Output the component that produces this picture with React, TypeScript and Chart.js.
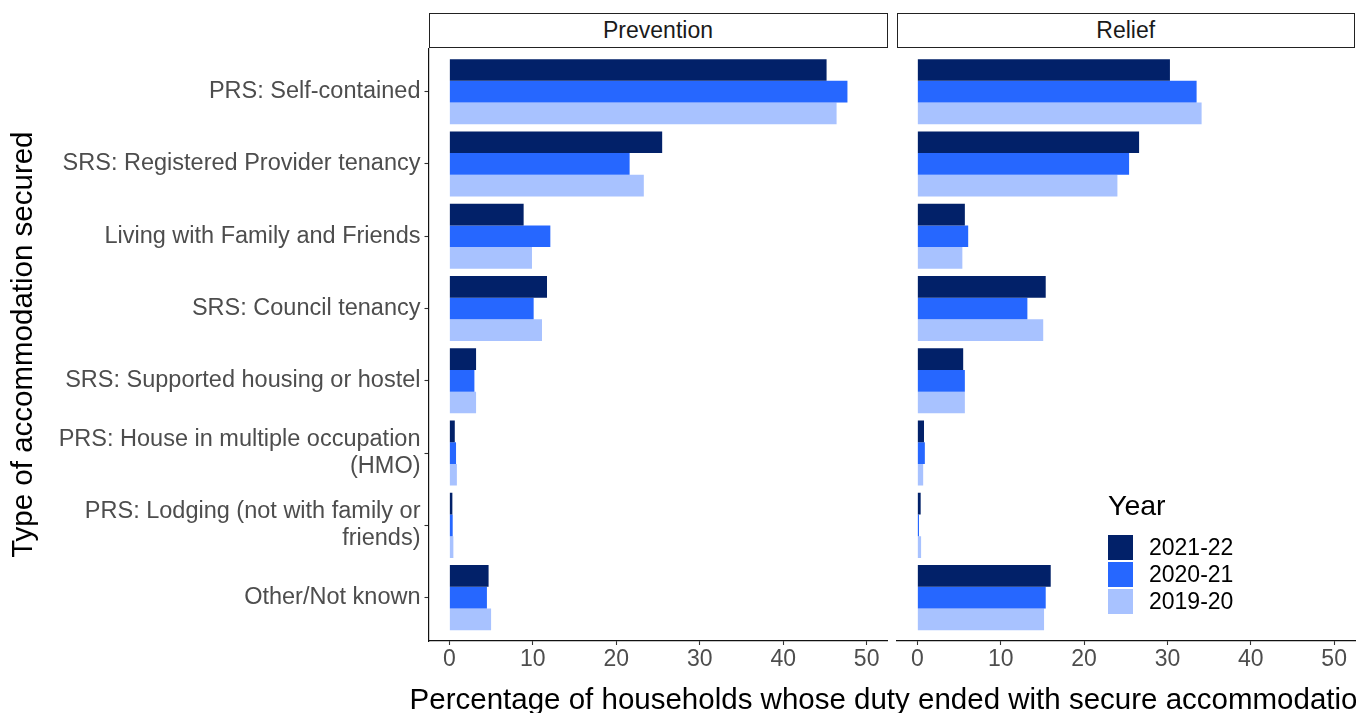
import React, { useEffect, useRef } from "react";
import { Chart, registerables } from "chart.js";

Chart.register(...registerables);

const FONT = '"Liberation Sans", Arial, sans-serif';

const categories = [
  "PRS: Self-contained",
  "SRS: Registered Provider tenancy",
  "Living with Family and Friends",
  "SRS: Council tenancy",
  "SRS: Supported housing or hostel",
  "PRS: House in multiple occupation\n(HMO)",
  "PRS: Lodging (not with family or\nfriends)",
  "Other/Not known",
];

const years = ["2021-22", "2020-21", "2019-20"];
const yearColors = ["#022169", "#2667FF", "#A8C2FF"];

const prevention2122 = [45.2, 25.5, 8.9, 11.7, 3.2, 0.65, 0.36, 4.7];
const prevention2021 = [47.7, 21.6, 12.1, 10.1, 3.0, 0.8, 0.4, 4.5];
const prevention1920 = [46.4, 23.3, 9.9, 11.1, 3.2, 0.9, 0.48, 5.0];

const relief2122 = [30.3, 26.6, 5.7, 15.4, 5.5, 0.8, 0.4, 16.0];
const relief2021 = [33.5, 25.4, 6.1, 13.2, 5.7, 0.9, 0.2, 15.4];
const relief1920 = [34.1, 24.0, 5.4, 15.1, 5.7, 0.7, 0.45, 15.2];

const xTicks = [0, 10, 20, 30, 40, 50];

const panels = ["Prevention", "Relief"];
const yTitle = "Type of accommodation secured";
const xTitle = "Percentage of households whose duty ended with secure accommodation";
const legendTitle = "Year";

function makeDatasets(series: number[][]) {
  return series.map((vals, k) => ({
    label: years[k],
    data: vals.map((v, i) => ({ x: v, y: i })),
    backgroundColor: yearColors[k],
    borderWidth: 0,
    categoryPercentage: 0.9,
    barPercentage: 1.0,
  }));
}

function xScale() {
  return {
    type: "linear" as const,
    min: -2.5,
    max: 52.5,
    offset: false,
    afterBuildTicks: (s: any) => {
      s.ticks = xTicks.map((v) => ({ value: v }));
    },
    afterFit: (s: any) => {
      s.height = 72;
    },
    grid: {
      display: true,
      offset: false,
      drawOnChartArea: false,
      drawTicks: true,
      tickLength: 4,
      tickColor: "#333333",
      tickWidth: 1.1,
    },
    border: { display: true, color: "#111111", width: 1.2 },
    ticks: {
      padding: 1,
      color: "#4d4d4d",
      font: { family: FONT, size: 23, lineHeight: 1.16 },
      maxRotation: 0,
      autoSkip: false,
    },
  };
}

function yScale(show: boolean) {
  return {
    type: "linear" as const,
    reverse: true,
    min: -0.6,
    max: 7.6,
    offset: false,
    display: show,
    afterBuildTicks: (s: any) => {
      s.ticks = categories.map((_, i) => ({ value: i }));
    },
    afterFit: (s: any) => {
      if (show) s.width = 428.5;
    },
    grid: {
      display: true,
      offset: false,
      drawOnChartArea: false,
      drawTicks: true,
      tickLength: 4,
      tickColor: "#333333",
      tickWidth: 1.1,
    },
    border: { display: true, color: "#111111", width: 1.2 },
    ticks: {
      padding: 4,
      color: "#4d4d4d",
      font: { family: FONT, size: 23.5, lineHeight: 1.14 },
      autoSkip: false,
      callback: (v: any) => {
        const c = categories[Math.round(Number(v))];
        return c ? c.split("\n") : "";
      },
    },
    title: {
      display: show,
      text: yTitle,
      color: "#000000",
      font: { family: FONT, size: 29.5, lineHeight: 1 },
      padding: { top: 9.5, bottom: 0 },
    },
  };
}

function Panel({
  series,
  showY,
  left,
  width,
  padLeft,
  padRight,
}: {
  series: number[][];
  showY: boolean;
  left: number;
  width: number;
  padLeft: number;
  padRight: number;
}) {
  const ref = useRef<HTMLCanvasElement | null>(null);
  useEffect(() => {
    if (!ref.current) return;
    const chart = new Chart(ref.current, {
      type: "bar",
      data: { datasets: makeDatasets(series) as any },
      options: {
        indexAxis: "y",
        animation: false,
        responsive: false,
        maintainAspectRatio: false,
        layout: { padding: { left: padLeft, right: padRight, top: 48.3, bottom: 0 } },
        plugins: { legend: { display: false }, tooltip: { enabled: false } },
        scales: { x: xScale() as any, y: yScale(showY) as any },
      },
    });
    return () => chart.destroy();
  }, []);
  return (
    <canvas
      ref={ref}
      width={width}
      height={713}
      style={{ position: "absolute", left, top: 0, width, height: 713 }}
    />
  );
}

function Strip({ text, left, width }: { text: string; left: number; width: number }) {
  return (
    <div
      style={{
        position: "absolute",
        left,
        top: 13.3,
        width,
        height: 35,
        boxSizing: "border-box",
        border: "1.4px solid #222",
        background: "#fff",
        color: "#1a1a1a",
        fontSize: 23,
        lineHeight: "32px",
        textAlign: "center",
      }}
    >
      {text}
    </div>
  );
}

export default function App() {
  const prevention = [prevention2122, prevention2021, prevention1920];
  const relief = [relief2122, relief2021, relief1920];
  return (
    <div
      style={{
        position: "fixed",
        left: 0,
        top: 0,
        width: 1356,
        height: 713,
        overflow: "hidden",
        background: "#fff",
        fontFamily: FONT,
      }}
    >
      <Panel series={prevention} showY={true} left={0} width={890} padLeft={0} padRight={2.5} />
      <Panel series={relief} showY={false} left={890} width={470} padLeft={6.5} padRight={5} />
      <Strip text={panels[0]} left={428.5} width={459} />
      <Strip text={panels[1]} left={896.5} width={458.5} />
      <div
        style={{
          position: "absolute",
          left: 891.75 - 700,
          width: 1400,
          top: 684,
          fontSize: 29.5,
          lineHeight: 1,
          textAlign: "center",
          whiteSpace: "nowrap",
          color: "#000",
        }}
      >
        {xTitle}
      </div>
      <div
        style={{
          position: "absolute",
          left: 1108,
          top: 491,
          fontSize: 28.5,
          lineHeight: 1,
          color: "#000",
          whiteSpace: "nowrap",
        }}
      >
        {legendTitle}
      </div>
      <div style={{ position: "absolute", left: 1107.5, top: 534.3 }}>
        {years.map((y, k) => (
          <div key={y} style={{ display: "flex", alignItems: "center", height: 26.7 }}>
            <div style={{ width: 25, height: 25, background: yearColors[k] }} />
            <div
              style={{
                marginLeft: 16.5,
                fontSize: 23,
                lineHeight: "26.7px",
                color: "#000",
                whiteSpace: "nowrap",
              }}
            >
              {y}
            </div>
          </div>
        ))}
      </div>
    </div>
  );
}
